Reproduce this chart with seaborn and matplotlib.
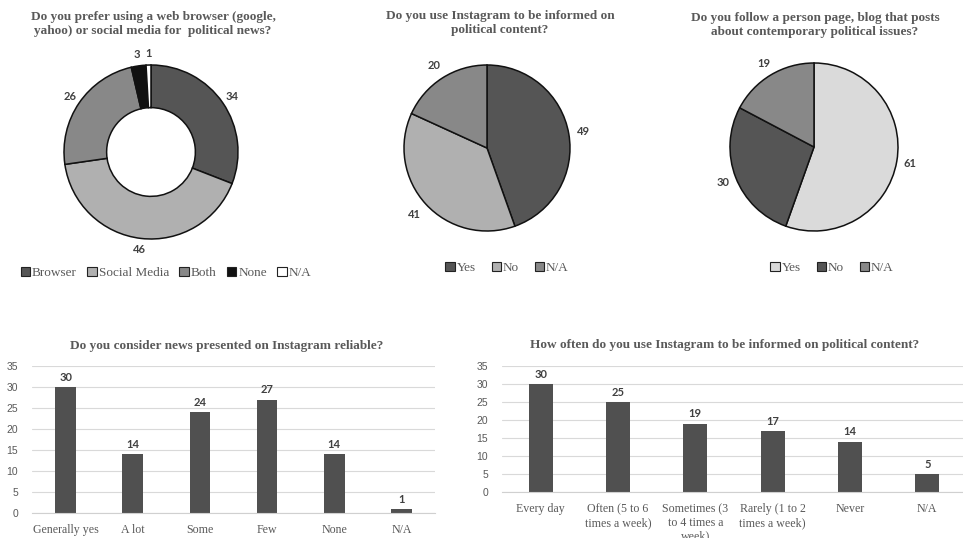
import matplotlib
matplotlib.use("Agg")
import matplotlib.pyplot as plt
import matplotlib.patches as mpatches
import seaborn as sns
import pandas as pd

# ---------------- data ----------------
pref_labels = ["Browser", "Social Media", "Both", "None", "N/A"]
pref_values = [34, 46, 26, 3, 1]

insta_labels = ["Yes", "No", "N/A"]
insta_values = [49, 41, 20]

follow_labels = ["Yes", "No", "N/A"]
follow_values = [61, 30, 19]

reliable_cats = ["Generally yes", "A lot", "Some", "Few", "None", "N/A"]
reliable_values = [30, 14, 24, 27, 14, 1]

often_cats = ["Every day", "Often (5 to 6\ntimes a week)", "Sometimes (3\nto 4 times a\nweek)",
              "Rarely (1 to 2\ntimes a week)", "Never", "N/A"]
often_values = [30, 25, 19, 17, 14, 5]

titles = [
    "Do you prefer using a web browser (google,\nyahoo) or social media for  political news?",
    "Do you use Instagram to be informed on\npolitical content?",
    "Do you follow a person page, blog that posts\nabout contemporary political issues?",
    "Do you consider news presented on Instagram reliable?",
    "How often do you use Instagram to be informed on political content?",
]

# ---------------- style ----------------
sns.set_theme(style="white")
plt.rcParams["font.family"] = ["Liberation Sans", "DejaVu Sans"]

W, H = 963, 538
fig = plt.figure(figsize=(W / 100, H / 100), dpi=100)
fig.patch.set_facecolor("white")

TITLE_C = "#595959"
LABEL_C = "#404040"
SERIF = ["Liberation Serif", "DejaVu Serif"]
DARK = "#555555"
MID = "#888888"
LIGHT = "#b0b0b0"
VLIGHT = "#dadada"


def px_axes(cx, cy, r):
    return fig.add_axes([(cx - r) / W, (H - cy - r) / H, 2 * r / W, 2 * r / H])


def draw_pie(cx, cy, r, values, colors, ldist, donut=False):
    ax = px_axes(cx, cy, r)
    wedgeprops = dict(edgecolor="#111111", linewidth=1.1)
    if donut:
        wedgeprops["width"] = 0.49
    wedges, texts = ax.pie(values, colors=colors, startangle=90, counterclock=False,
                           radius=1, labels=[str(v) for v in values], labeldistance=ldist,
                           wedgeprops=wedgeprops,
                           textprops=dict(fontsize=8, fontweight="bold", color=LABEL_C,
                                          family=["Lato", "DejaVu Sans"]))
    for t in texts:
        t.set_ha("center")
        t.set_va("center")
    ax.set_xlim(-1, 1)
    ax.set_ylim(-1, 1)
    ax.set_aspect("equal")
    ax.axis("off")
    return ax


def legend(labels, colors, cx, cy, spacing=1.2):
    handles = [mpatches.Patch(facecolor=c, edgecolor="#222222", linewidth=0.8) for c in colors]
    fig.legend(handles, labels, loc="center", bbox_to_anchor=(cx / W, 1 - cy / H),
               ncol=len(labels), frameon=False, handlelength=0.7, handleheight=0.7,
               handletextpad=0.15, columnspacing=spacing,
               prop=dict(family=SERIF, size=9.5), labelcolor=TITLE_C)


def title(text, cx, cy):
    fig.text(cx / W, 1 - cy / H, text, ha="center", va="center", family=SERIF,
             fontweight="bold", fontsize=9.5, color=TITLE_C, linespacing=1.3)


# ---------------- pies ----------------
draw_pie(151, 152, 87, pref_values, [DARK, LIGHT, MID, "#111111", "white"], 1.13, donut=True)
legend(pref_labels, [DARK, LIGHT, MID, "#111111", "white"], 166, 273, spacing=0.8)
title(titles[0], 153, 24)

draw_pie(487, 148, 83, insta_values, [DARK, LIGHT, MID], 1.18)
legend(insta_labels, [DARK, LIGHT, MID], 507, 268)
title(titles[1], 500, 23)

draw_pie(814, 147, 84, follow_values, [VLIGHT, DARK, MID], 1.16)
legend(follow_labels, [VLIGHT, DARK, MID], 832, 268)
title(titles[2], 815, 25)


# ---------------- bars ----------------
def draw_bars(left, right, y0, y35, cats, values, width):
    ax = fig.add_axes([left / W, (H - y0) / H, (right - left) / W, (y0 - y35) / H])
    df = pd.DataFrame({"cat": cats, "val": values})
    sns.barplot(data=df, x="cat", y="val", color="#505050", width=width, ax=ax,
                saturation=1, edgecolor="none")
    ax.set_xlim(-0.5, len(cats) - 0.5)
    ax.set_ylim(0, 35)
    ax.set_yticks(range(0, 36, 5))
    ax.grid(axis="y", color="#d9d9d9", linewidth=0.8)
    ax.set_axisbelow(True)
    for s in ["top", "right", "left"]:
        ax.spines[s].set_visible(False)
    ax.spines["bottom"].set_color("#d0d0d0")
    ax.spines["bottom"].set_linewidth(0.8)
    ax.set_xlabel("")
    ax.set_ylabel("")
    ax.tick_params(axis="both", length=0)
    ax.tick_params(axis="y", labelsize=7.5, labelcolor=TITLE_C, pad=10)
    ax.tick_params(axis="x", pad=8)
    for lab in ax.get_xticklabels():
        lab.set_family(SERIF)
        lab.set_fontsize(8.6)
        lab.set_color(TITLE_C)
        lab.set_linespacing(1.2)
        lab.set_va("top")
    ax.set_facecolor("white")
    for c in ax.containers:
        ax.bar_label(c, padding=3, fontsize=8, fontweight="bold", color=LABEL_C,
                     family=["Lato", "DejaVu Sans"])
    return ax


draw_bars(32, 435, 513, 366, reliable_cats, reliable_values, 0.31)
title(titles[3], 227, 346)

draw_bars(502, 966, 492, 366, often_cats, often_values, 0.31)
title(titles[4], 725, 345)

fig.savefig("out.png", dpi=100, facecolor="white")
